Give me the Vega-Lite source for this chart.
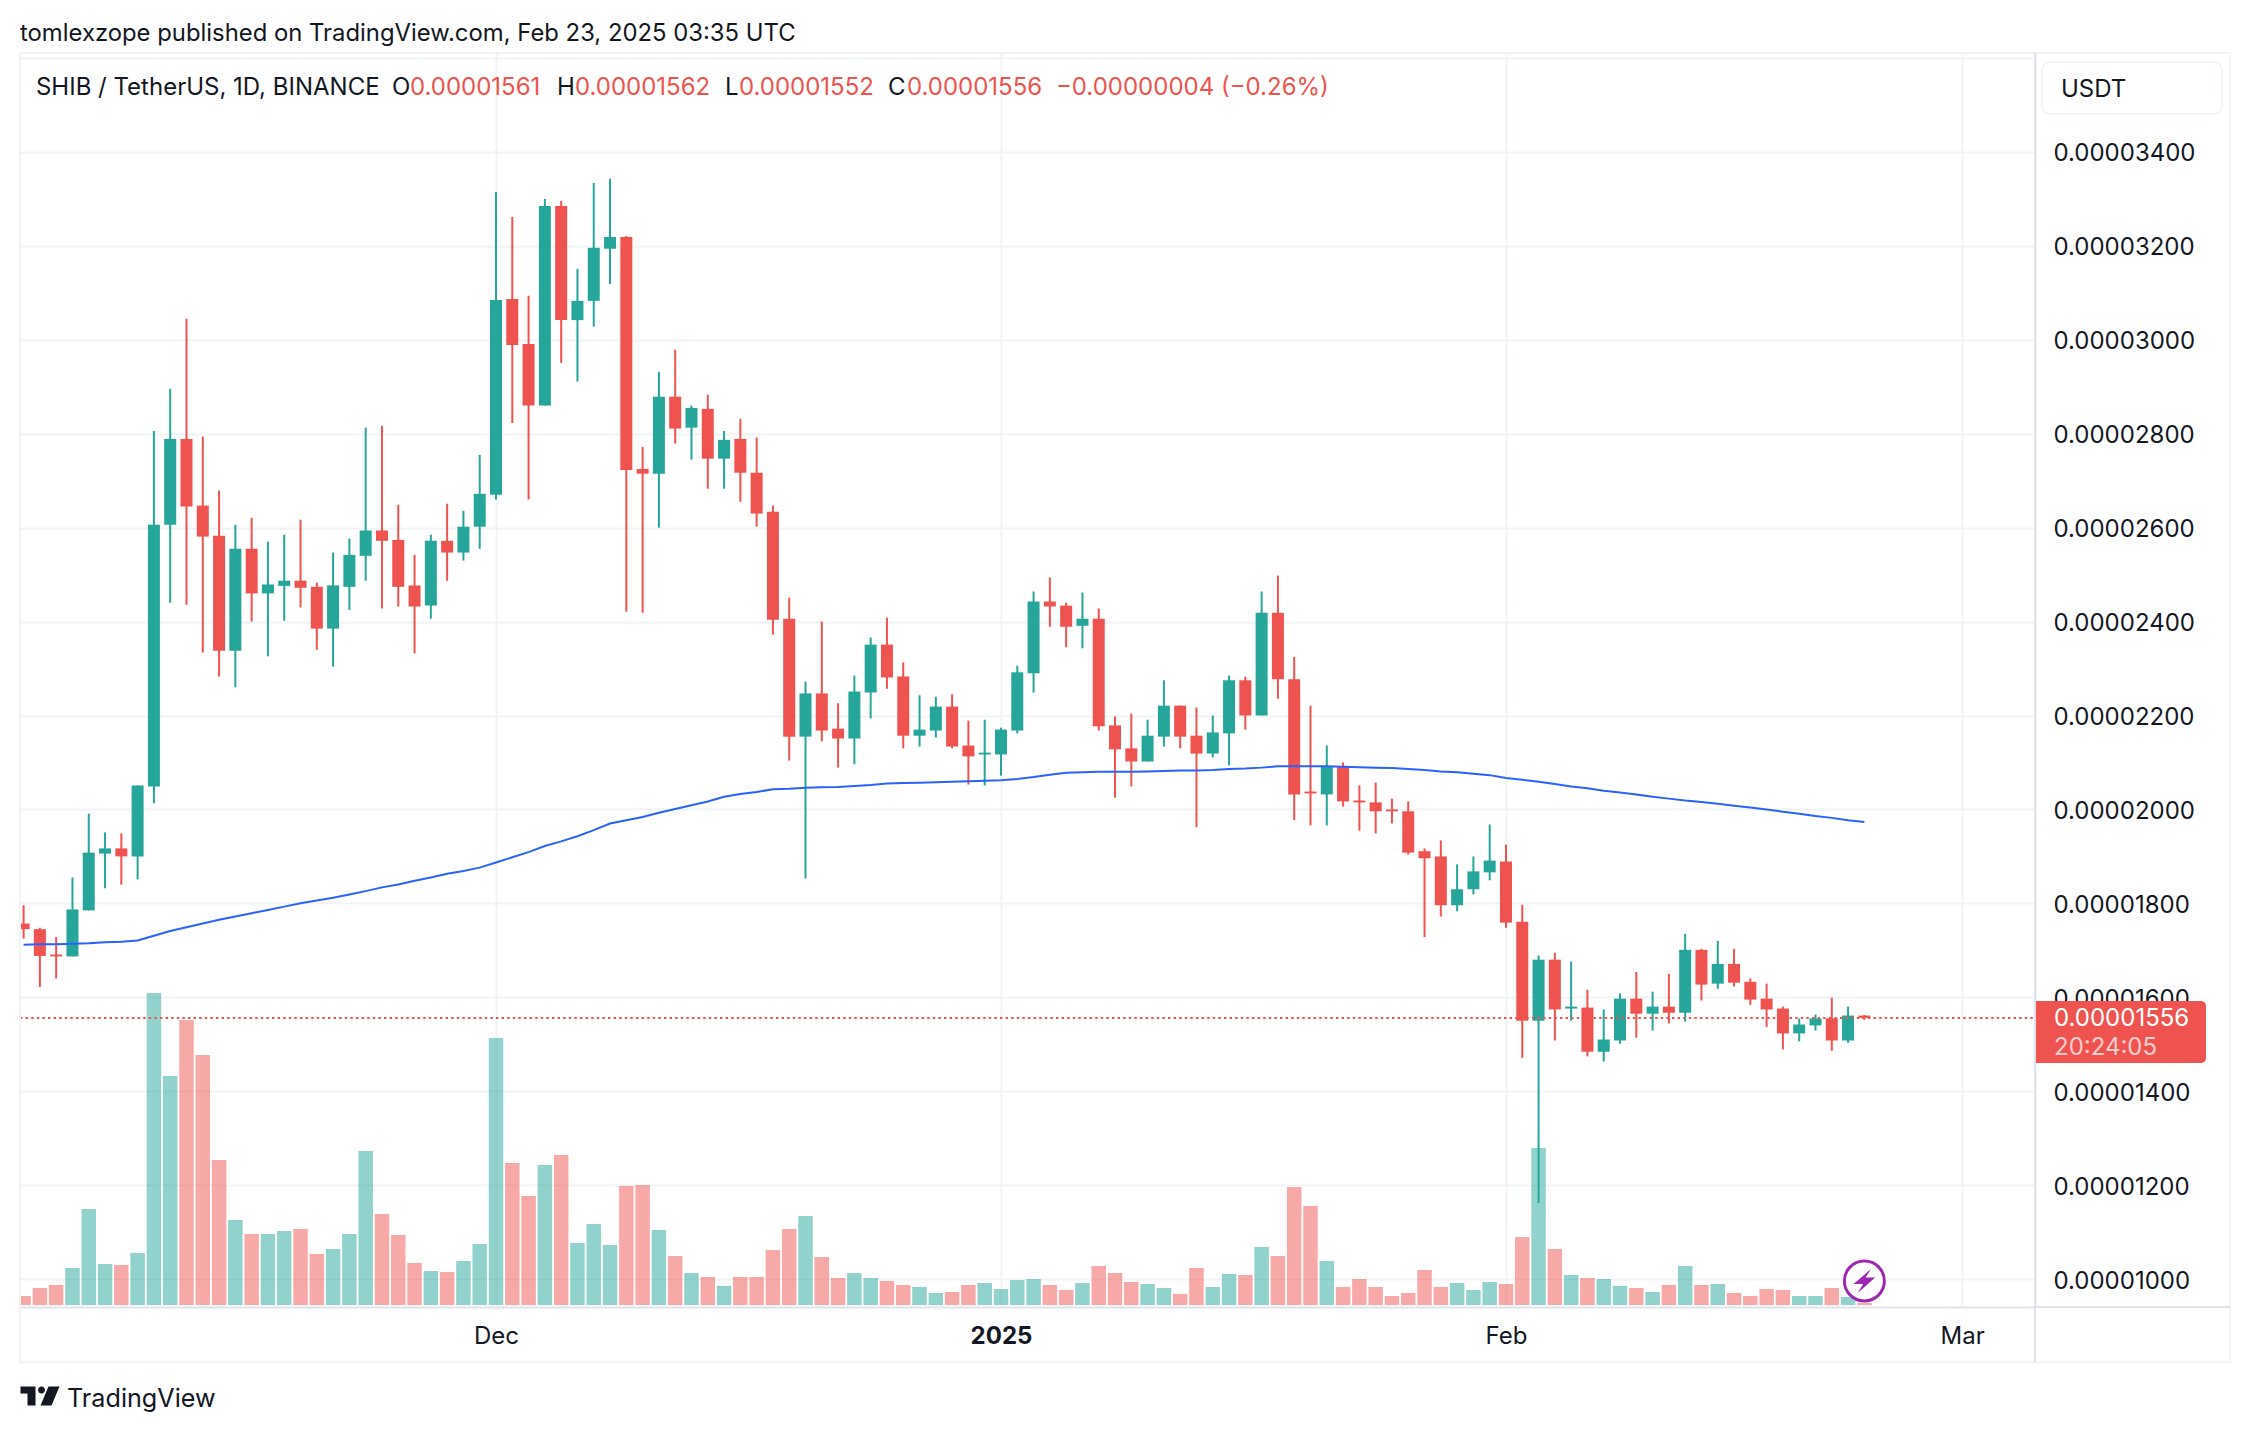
{
  "$schema": "https://vega.github.io/schema/vega-lite/v5.json",
  "description": "SHIB / TetherUS daily candles with volume and a long moving average.",
  "width": 2015,
  "height": 1254,
  "autosize": {"type": "none"},
  "padding": {"left": 20, "top": 53, "right": 215, "bottom": 125},
  "background": "#ffffff",
  "data": {"values": [
    {"date":"2024-11-02","dir":"down","open":0.00001757,"high":0.00001796,"low":0.00001725,"close":0.00001745,"volume":27,"ma":0.00001712},
    {"date":"2024-11-03","dir":"down","open":0.00001745,"high":0.00001748,"low":0.00001622,"close":0.00001688,"volume":51,"ma":0.00001713},
    {"date":"2024-11-04","dir":"down","open":0.00001691,"high":0.00001728,"low":0.0000164,"close":0.00001687,"volume":60,"ma":0.00001713},
    {"date":"2024-11-05","dir":"up","open":0.00001687,"high":0.00001855,"low":0.00001687,"close":0.00001787,"volume":111,"ma":0.00001714},
    {"date":"2024-11-06","dir":"up","open":0.00001785,"high":0.00001991,"low":0.00001785,"close":0.00001908,"volume":288,"ma":0.00001715},
    {"date":"2024-11-07","dir":"up","open":0.00001906,"high":0.00001951,"low":0.00001832,"close":0.00001917,"volume":123,"ma":0.00001717},
    {"date":"2024-11-08","dir":"down","open":0.00001917,"high":0.00001949,"low":0.0000184,"close":0.000019,"volume":120,"ma":0.00001718},
    {"date":"2024-11-09","dir":"up","open":0.000019,"high":0.00002051,"low":0.00001851,"close":0.00002051,"volume":156,"ma":0.00001721},
    {"date":"2024-11-10","dir":"up","open":0.00002049,"high":0.00002806,"low":0.00002013,"close":0.00002606,"volume":936,"ma":0.00001731},
    {"date":"2024-11-11","dir":"up","open":0.00002606,"high":0.00002896,"low":0.0000244,"close":0.00002789,"volume":687,"ma":0.00001741},
    {"date":"2024-11-12","dir":"down","open":0.00002789,"high":0.00003045,"low":0.00002436,"close":0.00002645,"volume":855,"ma":0.00001749},
    {"date":"2024-11-13","dir":"down","open":0.00002647,"high":0.00002794,"low":0.00002334,"close":0.00002581,"volume":750,"ma":0.00001757},
    {"date":"2024-11-14","dir":"down","open":0.00002583,"high":0.00002679,"low":0.00002283,"close":0.00002338,"volume":435,"ma":0.00001765},
    {"date":"2024-11-15","dir":"up","open":0.00002338,"high":0.00002606,"low":0.0000226,"close":0.00002555,"volume":255,"ma":0.00001772},
    {"date":"2024-11-16","dir":"down","open":0.00002555,"high":0.00002621,"low":0.000024,"close":0.0000246,"volume":213,"ma":0.00001779},
    {"date":"2024-11-17","dir":"up","open":0.0000246,"high":0.0000257,"low":0.00002326,"close":0.00002479,"volume":213,"ma":0.00001786},
    {"date":"2024-11-18","dir":"up","open":0.00002476,"high":0.00002585,"low":0.00002402,"close":0.00002487,"volume":222,"ma":0.00001793},
    {"date":"2024-11-19","dir":"down","open":0.00002487,"high":0.00002617,"low":0.0000243,"close":0.00002472,"volume":228,"ma":0.000018},
    {"date":"2024-11-20","dir":"down","open":0.00002474,"high":0.00002483,"low":0.0000234,"close":0.00002385,"volume":153,"ma":0.00001806},
    {"date":"2024-11-21","dir":"up","open":0.00002385,"high":0.00002547,"low":0.00002304,"close":0.00002477,"volume":168,"ma":0.00001812},
    {"date":"2024-11-22","dir":"up","open":0.00002474,"high":0.00002577,"low":0.00002425,"close":0.00002542,"volume":213,"ma":0.00001819},
    {"date":"2024-11-23","dir":"up","open":0.0000254,"high":0.00002813,"low":0.00002487,"close":0.00002594,"volume":462,"ma":0.00001826},
    {"date":"2024-11-24","dir":"down","open":0.00002594,"high":0.00002817,"low":0.00002428,"close":0.00002572,"volume":273,"ma":0.00001834},
    {"date":"2024-11-25","dir":"down","open":0.00002574,"high":0.00002649,"low":0.00002432,"close":0.00002474,"volume":210,"ma":0.0000184},
    {"date":"2024-11-26","dir":"down","open":0.00002477,"high":0.00002542,"low":0.00002332,"close":0.00002432,"volume":126,"ma":0.00001848},
    {"date":"2024-11-27","dir":"up","open":0.00002434,"high":0.00002585,"low":0.00002406,"close":0.00002572,"volume":102,"ma":0.00001855},
    {"date":"2024-11-28","dir":"down","open":0.00002572,"high":0.00002651,"low":0.00002487,"close":0.00002547,"volume":99,"ma":0.00001863},
    {"date":"2024-11-29","dir":"up","open":0.00002547,"high":0.00002636,"low":0.0000253,"close":0.00002602,"volume":132,"ma":0.00001869},
    {"date":"2024-11-30","dir":"up","open":0.00002602,"high":0.00002755,"low":0.00002555,"close":0.00002672,"volume":183,"ma":0.00001876},
    {"date":"2024-12-01","dir":"up","open":0.0000267,"high":0.00003315,"low":0.0000266,"close":0.00003085,"volume":801,"ma":0.00001887},
    {"date":"2024-12-02","dir":"down","open":0.00003087,"high":0.00003262,"low":0.00002823,"close":0.00002989,"volume":426,"ma":0.00001898},
    {"date":"2024-12-03","dir":"down","open":0.00002991,"high":0.00003094,"low":0.0000266,"close":0.0000286,"volume":327,"ma":0.00001909},
    {"date":"2024-12-04","dir":"up","open":0.0000286,"high":0.000033,"low":0.0000286,"close":0.00003285,"volume":420,"ma":0.00001922},
    {"date":"2024-12-05","dir":"down","open":0.00003285,"high":0.00003296,"low":0.00002951,"close":0.00003042,"volume":450,"ma":0.00001932},
    {"date":"2024-12-06","dir":"up","open":0.00003042,"high":0.00003151,"low":0.00002911,"close":0.00003083,"volume":186,"ma":0.00001943},
    {"date":"2024-12-07","dir":"up","open":0.00003083,"high":0.00003334,"low":0.00003028,"close":0.00003196,"volume":243,"ma":0.00001956},
    {"date":"2024-12-08","dir":"up","open":0.00003194,"high":0.00003343,"low":0.00003119,"close":0.00003219,"volume":180,"ma":0.0000197},
    {"date":"2024-12-09","dir":"down","open":0.00003219,"high":0.00003221,"low":0.00002421,"close":0.00002723,"volume":357,"ma":0.00001977},
    {"date":"2024-12-10","dir":"down","open":0.00002725,"high":0.00002772,"low":0.00002419,"close":0.00002715,"volume":360,"ma":0.00001984},
    {"date":"2024-12-11","dir":"up","open":0.00002715,"high":0.00002932,"low":0.000026,"close":0.00002879,"volume":225,"ma":0.00001993},
    {"date":"2024-12-12","dir":"down","open":0.00002879,"high":0.00002979,"low":0.00002779,"close":0.00002811,"volume":147,"ma":0.00002001},
    {"date":"2024-12-13","dir":"up","open":0.00002813,"high":0.0000286,"low":0.00002745,"close":0.00002855,"volume":96,"ma":0.00002009},
    {"date":"2024-12-14","dir":"down","open":0.00002853,"high":0.00002883,"low":0.00002683,"close":0.00002747,"volume":84,"ma":0.00002017},
    {"date":"2024-12-15","dir":"up","open":0.00002747,"high":0.00002806,"low":0.00002683,"close":0.00002787,"volume":57,"ma":0.00002027},
    {"date":"2024-12-16","dir":"down","open":0.00002789,"high":0.00002832,"low":0.00002655,"close":0.00002717,"volume":84,"ma":0.00002033},
    {"date":"2024-12-17","dir":"down","open":0.00002717,"high":0.00002792,"low":0.00002602,"close":0.0000263,"volume":84,"ma":0.00002037},
    {"date":"2024-12-18","dir":"down","open":0.00002634,"high":0.00002647,"low":0.00002372,"close":0.00002404,"volume":165,"ma":0.00002043},
    {"date":"2024-12-19","dir":"down","open":0.00002406,"high":0.00002451,"low":0.00002104,"close":0.00002155,"volume":228,"ma":0.00002044},
    {"date":"2024-12-20","dir":"up","open":0.00002155,"high":0.00002272,"low":0.00001853,"close":0.00002247,"volume":267,"ma":0.00002046},
    {"date":"2024-12-21","dir":"down","open":0.00002247,"high":0.000024,"low":0.00002145,"close":0.00002168,"volume":144,"ma":0.00002047},
    {"date":"2024-12-22","dir":"down","open":0.00002172,"high":0.00002226,"low":0.00002089,"close":0.00002151,"volume":81,"ma":0.00002048},
    {"date":"2024-12-23","dir":"up","open":0.00002151,"high":0.00002285,"low":0.00002096,"close":0.00002251,"volume":96,"ma":0.0000205},
    {"date":"2024-12-24","dir":"up","open":0.00002249,"high":0.00002366,"low":0.00002194,"close":0.00002351,"volume":81,"ma":0.00002052},
    {"date":"2024-12-25","dir":"down","open":0.00002351,"high":0.00002408,"low":0.00002257,"close":0.00002281,"volume":72,"ma":0.00002055},
    {"date":"2024-12-26","dir":"down","open":0.00002283,"high":0.00002313,"low":0.0000213,"close":0.00002157,"volume":60,"ma":0.00002056},
    {"date":"2024-12-27","dir":"up","open":0.00002157,"high":0.00002243,"low":0.00002134,"close":0.0000217,"volume":54,"ma":0.00002057},
    {"date":"2024-12-28","dir":"up","open":0.00002168,"high":0.0000224,"low":0.00002153,"close":0.00002219,"volume":36,"ma":0.00002058},
    {"date":"2024-12-29","dir":"down","open":0.00002219,"high":0.00002245,"low":0.0000213,"close":0.00002134,"volume":39,"ma":0.00002059},
    {"date":"2024-12-30","dir":"down","open":0.00002136,"high":0.00002189,"low":0.00002053,"close":0.00002113,"volume":60,"ma":0.0000206},
    {"date":"2024-12-31","dir":"up","open":0.00002117,"high":0.00002191,"low":0.00002051,"close":0.00002121,"volume":66,"ma":0.00002061},
    {"date":"2025-01-01","dir":"up","open":0.00002117,"high":0.00002174,"low":0.00002072,"close":0.0000217,"volume":48,"ma":0.00002062},
    {"date":"2025-01-02","dir":"up","open":0.00002168,"high":0.00002306,"low":0.00002162,"close":0.00002292,"volume":75,"ma":0.00002065},
    {"date":"2025-01-03","dir":"up","open":0.0000229,"high":0.00002464,"low":0.00002249,"close":0.00002443,"volume":78,"ma":0.00002069},
    {"date":"2025-01-04","dir":"down","open":0.00002443,"high":0.00002494,"low":0.00002389,"close":0.00002432,"volume":60,"ma":0.00002074},
    {"date":"2025-01-05","dir":"down","open":0.00002434,"high":0.0000244,"low":0.00002345,"close":0.00002389,"volume":45,"ma":0.00002078},
    {"date":"2025-01-06","dir":"up","open":0.00002391,"high":0.00002462,"low":0.00002343,"close":0.00002406,"volume":66,"ma":0.00002079},
    {"date":"2025-01-07","dir":"down","open":0.00002406,"high":0.00002428,"low":0.00002168,"close":0.00002177,"volume":117,"ma":0.0000208},
    {"date":"2025-01-08","dir":"down","open":0.00002179,"high":0.00002198,"low":0.00002025,"close":0.00002128,"volume":96,"ma":0.0000208},
    {"date":"2025-01-09","dir":"down","open":0.0000213,"high":0.00002204,"low":0.00002049,"close":0.00002102,"volume":69,"ma":0.0000208},
    {"date":"2025-01-10","dir":"up","open":0.00002102,"high":0.00002191,"low":0.00002102,"close":0.00002157,"volume":63,"ma":0.00002081},
    {"date":"2025-01-11","dir":"up","open":0.00002155,"high":0.00002275,"low":0.00002134,"close":0.00002221,"volume":51,"ma":0.00002082},
    {"date":"2025-01-12","dir":"down","open":0.00002221,"high":0.00002221,"low":0.0000213,"close":0.00002155,"volume":33,"ma":0.00002083},
    {"date":"2025-01-13","dir":"down","open":0.00002157,"high":0.00002217,"low":0.00001962,"close":0.00002119,"volume":111,"ma":0.00002083},
    {"date":"2025-01-14","dir":"up","open":0.00002119,"high":0.000022,"low":0.00002111,"close":0.00002164,"volume":54,"ma":0.00002084},
    {"date":"2025-01-15","dir":"up","open":0.00002162,"high":0.00002285,"low":0.00002094,"close":0.00002275,"volume":93,"ma":0.00002086},
    {"date":"2025-01-16","dir":"down","open":0.00002275,"high":0.00002283,"low":0.0000217,"close":0.000022,"volume":90,"ma":0.00002087},
    {"date":"2025-01-17","dir":"up","open":0.000022,"high":0.00002464,"low":0.000022,"close":0.00002419,"volume":174,"ma":0.00002089},
    {"date":"2025-01-18","dir":"down","open":0.00002419,"high":0.00002498,"low":0.00002236,"close":0.00002277,"volume":147,"ma":0.00002092},
    {"date":"2025-01-19","dir":"down","open":0.00002277,"high":0.00002325,"low":0.00001977,"close":0.00002032,"volume":354,"ma":0.00002092},
    {"date":"2025-01-20","dir":"down","open":0.00002038,"high":0.00002221,"low":0.00001966,"close":0.00002034,"volume":297,"ma":0.00002092},
    {"date":"2025-01-21","dir":"up","open":0.00002032,"high":0.00002136,"low":0.00001966,"close":0.00002092,"volume":132,"ma":0.00002092},
    {"date":"2025-01-22","dir":"down","open":0.00002092,"high":0.000021,"low":0.00002006,"close":0.00002017,"volume":54,"ma":0.00002091},
    {"date":"2025-01-23","dir":"down","open":0.00002019,"high":0.00002051,"low":0.00001955,"close":0.00002015,"volume":78,"ma":0.0000209},
    {"date":"2025-01-24","dir":"down","open":0.00002015,"high":0.00002057,"low":0.00001949,"close":0.00001996,"volume":54,"ma":0.00002089},
    {"date":"2025-01-25","dir":"down","open":0.00002,"high":0.00002023,"low":0.0000197,"close":0.00001996,"volume":27,"ma":0.00002088},
    {"date":"2025-01-26","dir":"down","open":0.00001996,"high":0.00002017,"low":0.00001904,"close":0.00001908,"volume":36,"ma":0.00002086},
    {"date":"2025-01-27","dir":"down","open":0.00001911,"high":0.00001917,"low":0.00001728,"close":0.00001896,"volume":105,"ma":0.00002084},
    {"date":"2025-01-28","dir":"down","open":0.000019,"high":0.00001934,"low":0.00001772,"close":0.00001796,"volume":54,"ma":0.00002081},
    {"date":"2025-01-29","dir":"up","open":0.00001796,"high":0.00001883,"low":0.00001783,"close":0.0000183,"volume":66,"ma":0.00002079},
    {"date":"2025-01-30","dir":"up","open":0.0000183,"high":0.000019,"low":0.00001819,"close":0.00001868,"volume":45,"ma":0.00002076},
    {"date":"2025-01-31","dir":"up","open":0.00001866,"high":0.00001968,"low":0.00001849,"close":0.00001891,"volume":69,"ma":0.00002073},
    {"date":"2025-02-01","dir":"down","open":0.00001889,"high":0.00001925,"low":0.00001748,"close":0.00001759,"volume":63,"ma":0.00002067},
    {"date":"2025-02-02","dir":"down","open":0.00001761,"high":0.00001797,"low":0.00001471,"close":0.0000155,"volume":204,"ma":0.00002063},
    {"date":"2025-02-03","dir":"up","open":0.0000155,"high":0.00001689,"low":0.00001162,"close":0.0000168,"volume":471,"ma":0.00002059},
    {"date":"2025-02-04","dir":"down","open":0.0000168,"high":0.00001695,"low":0.00001508,"close":0.00001574,"volume":168,"ma":0.00002054},
    {"date":"2025-02-05","dir":"up","open":0.00001576,"high":0.00001676,"low":0.0000155,"close":0.0000158,"volume":90,"ma":0.00002049},
    {"date":"2025-02-06","dir":"down","open":0.00001578,"high":0.00001616,"low":0.00001474,"close":0.00001484,"volume":81,"ma":0.00002045},
    {"date":"2025-02-07","dir":"up","open":0.00001484,"high":0.00001574,"low":0.00001463,"close":0.0000151,"volume":78,"ma":0.0000204},
    {"date":"2025-02-08","dir":"up","open":0.00001508,"high":0.00001608,"low":0.00001501,"close":0.00001597,"volume":57,"ma":0.00002036},
    {"date":"2025-02-09","dir":"down","open":0.00001597,"high":0.00001654,"low":0.00001514,"close":0.00001565,"volume":51,"ma":0.00002032},
    {"date":"2025-02-10","dir":"up","open":0.00001565,"high":0.00001612,"low":0.00001529,"close":0.0000158,"volume":39,"ma":0.00002027},
    {"date":"2025-02-11","dir":"down","open":0.0000158,"high":0.0000165,"low":0.00001544,"close":0.00001567,"volume":60,"ma":0.00002023},
    {"date":"2025-02-12","dir":"up","open":0.00001567,"high":0.00001735,"low":0.00001548,"close":0.00001701,"volume":117,"ma":0.00002019},
    {"date":"2025-02-13","dir":"down","open":0.00001701,"high":0.00001703,"low":0.00001593,"close":0.00001627,"volume":60,"ma":0.00002016},
    {"date":"2025-02-14","dir":"up","open":0.00001629,"high":0.0000172,"low":0.00001618,"close":0.00001671,"volume":63,"ma":0.00002012},
    {"date":"2025-02-15","dir":"down","open":0.00001671,"high":0.00001703,"low":0.00001623,"close":0.00001631,"volume":36,"ma":0.00002008},
    {"date":"2025-02-16","dir":"down","open":0.00001633,"high":0.0000164,"low":0.00001584,"close":0.00001595,"volume":27,"ma":0.00002004},
    {"date":"2025-02-17","dir":"down","open":0.00001597,"high":0.00001629,"low":0.00001537,"close":0.00001574,"volume":48,"ma":0.00002},
    {"date":"2025-02-18","dir":"down","open":0.00001576,"high":0.0000158,"low":0.00001489,"close":0.00001523,"volume":45,"ma":0.00001995},
    {"date":"2025-02-19","dir":"up","open":0.00001523,"high":0.00001555,"low":0.00001506,"close":0.00001542,"volume":27,"ma":0.00001991},
    {"date":"2025-02-20","dir":"up","open":0.0000154,"high":0.00001563,"low":0.00001529,"close":0.00001555,"volume":27,"ma":0.00001986},
    {"date":"2025-02-21","dir":"down","open":0.00001555,"high":0.00001599,"low":0.00001486,"close":0.00001508,"volume":51,"ma":0.00001982},
    {"date":"2025-02-22","dir":"up","open":0.00001508,"high":0.0000158,"low":0.00001503,"close":0.00001561,"volume":24,"ma":0.00001977},
    {"date":"2025-02-23","dir":"down","open":0.00001561,"high":0.00001562,"low":0.00001552,"close":0.00001556,"volume":6,"ma":0.00001973}
  ]},
  "encoding": {
    "x": {
      "field": "date",
      "type": "temporal",
      "title": null,
      "scale": {"domain": [1730486558832, 1741173852852], "padding": 0},
      "axis": {
        "values": [1733011200000, 1735689600000, 1738368000000, 1740787200000],
        "labelExpr": "utcmonth(datum.value) == 0 ? '2025' : utcFormat(datum.value, '%b')",
        "labelFont": "Inter",
        "labelFontSize": 24,
        "labelFontWeight": {"condition": {"test": "utcmonth(datum.value) == 0", "value": "bold"}, "value": "normal"},
        "labelColor": "#131722",
        "labelPadding": 17,
        "labelOverlap": false,
        "labelFlush": false,
        "ticks": false,
        "domainColor": "#e0e3eb",
        "domainWidth": 2,
        "grid": true,
        "gridColor": "#f2f3f5",
        "gridWidth": 2
      }
    }
  },
  "layer": [
    {
      "layer": [
        {
          "mark": {"type": "bar", "width": 14.5, "opacity": 0.5, "clip": true},
          "encoding": {
            "y": {
              "field": "volume",
              "type": "quantitative",
              "stack": null,
              "scale": {"domain": [-6, 3756]},
              "axis": null
            },
            "color": {
              "field": "dir",
              "type": "nominal",
              "scale": {"domain": ["up", "down"], "range": ["#26a69a", "#ef5350"]},
              "legend": null
            }
          }
        }
      ]
    },
    {
      "layer": [
        {
          "mark": {"type": "rule", "strokeWidth": 2},
          "encoding": {
            "y": {
              "field": "low",
              "type": "quantitative",
              "scale": {"domain": [0.000009404, 0.000036108]},
              "axis": {
                "title": null,
                "orient": "right",
                "values": [0.00001, 0.000012, 0.000014, 0.000016, 0.000018, 0.00002, 0.000022, 0.000024, 0.000026, 0.000028, 0.00003, 0.000032, 0.000034, 0.000036],
                "labelExpr": "datum.value > 0.000035 ? '' : format(datum.value, '.8f')",
                "labelFont": "Inter",
                "labelFontSize": 24,
                "labelColor": "#131722",
                "labelPadding": 18,
                "labelOffset": 2,
                "labelOverlap": false,
                "labelFlush": false,
                "ticks": false,
                "domainColor": "#e0e3eb",
                "domainWidth": 2,
                "grid": true,
                "gridColor": "#f2f3f5",
                "gridWidth": 2
              }
            },
            "y2": {"field": "high"},
            "color": {
              "field": "dir",
              "type": "nominal",
              "scale": {"domain": ["up", "down"], "range": ["#26a69a", "#ef5350"]},
              "legend": null
            }
          }
        },
        {
          "mark": {"type": "bar", "width": 12, "clip": true},
          "encoding": {
            "y": {"field": "open", "type": "quantitative", "stack": null, "scale": {"domain": [0.000009404, 0.000036108]}},
            "y2": {"field": "close"},
            "color": {"field": "dir", "type": "nominal", "legend": null}
          }
        },
        {
          "mark": {"type": "line", "color": "#2962ff", "strokeWidth": 2, "clip": true},
          "encoding": {
            "y": {"field": "ma", "type": "quantitative", "scale": {"domain": [0.000009404, 0.000036108]}}
          }
        },
        {
          "transform": [{"filter": "datum.volume == 6"}],
          "mark": {"type": "rule", "color": "#ef5350", "strokeWidth": 2, "strokeDash": [2.4, 3.2]},
          "encoding": {
            "x": {"datum": {"expr": "1730486558832"}, "type": "temporal", "scale": {"domain": [1730486558832, 1741173852852], "padding": 0}},
            "x2": {"datum": {"expr": "1741173852852"}},
            "y": {"datum": 0.00001556, "type": "quantitative", "scale": {"domain": [0.000009404, 0.000036108]}}
          }
        },
        {
          "transform": [{"filter": "datum.volume == 6"}],
          "mark": {"type": "rect", "filled": false, "stroke": "#f2f3f5", "strokeWidth": 2},
          "encoding": {
            "x": {"datum": {"expr": "1730486558832"}, "type": "temporal", "scale": {"domain": [1730486558832, 1741173852852], "padding": 0}},
            "x2": {"datum": {"expr": "1742208110000"}},
            "y": {"datum": 0.000036108, "type": "quantitative", "scale": {"domain": [0.000009404, 0.000036108]}},
            "y2": {"datum": 0.00000823}
          }
        },
        {
          "transform": [{"filter": "datum.volume == 6"}],
          "mark": {"type": "rule", "color": "#e0e3eb", "strokeWidth": 2},
          "encoding": {
            "x": {"datum": {"expr": "1741173852852"}, "type": "temporal", "scale": {"domain": [1730486558832, 1741173852852], "padding": 0}},
            "x2": {"datum": {"expr": "1742208110000"}},
            "y": {"datum": 0.000009404, "type": "quantitative", "scale": {"domain": [0.000009404, 0.000036108]}}
          }
        },
        {
          "transform": [{"filter": "datum.volume == 6"}],
          "mark": {"type": "rule", "color": "#e0e3eb", "strokeWidth": 2},
          "encoding": {
            "x": {"datum": {"expr": "1741173852852"}, "type": "temporal", "scale": {"domain": [1730486558832, 1741173852852], "padding": 0}},
            "y": {"datum": 0.000036108, "type": "quantitative", "scale": {"domain": [0.000009404, 0.000036108]}},
            "y2": {"datum": 0.00000823}
          }
        },
        {
          "transform": [{"filter": "datum.volume == 6"}],
          "mark": {"type": "rect", "fill": "#ffffff", "stroke": "#f0f3fa", "strokeWidth": 2, "cornerRadius": 8},
          "encoding": {
            "x": {"datum": {"expr": "1741210980000"}, "type": "temporal", "scale": {"domain": [1730486558832, 1741173852852], "padding": 0}},
            "x2": {"datum": {"expr": "1742165680000"}},
            "y": {"datum": 0.000035917, "type": "quantitative", "scale": {"domain": [0.000009404, 0.000036108]}},
            "y2": {"datum": 0.000034809}
          }
        },
        {
          "transform": [{"filter": "datum.volume == 6"}],
          "mark": {"type": "rect", "fill": "#ef5350", "cornerRadiusTopRight": 5, "cornerRadiusBottomRight": 5},
          "encoding": {
            "x": {"datum": {"expr": "1741179160000"}, "type": "temporal", "scale": {"domain": [1730486558832, 1741173852852], "padding": 0}},
            "x2": {"datum": {"expr": "1742080810000"}},
            "y": {"datum": 0.00001592, "type": "quantitative", "scale": {"domain": [0.000009404, 0.000036108]}},
            "y2": {"datum": 0.0000146}
          }
        },
        {
          "transform": [{"filter": "datum.volume == 6"}],
          "mark": {"type": "point", "shape": "circle", "filled": true, "fill": "#ffffff", "stroke": "#9c27b0", "strokeWidth": 3, "size": 1600, "opacity": 1},
          "encoding": {
            "x": {"datum": {"expr": "1740268800000"}, "type": "temporal", "scale": {"domain": [1730486558832, 1741173852852], "padding": 0}},
            "y": {"datum": 0.000009957, "type": "quantitative", "scale": {"domain": [0.000009404, 0.000036108]}}
          }
        },
        {
          "transform": [{"filter": "datum.volume == 6"}],
          "mark": {"type": "point", "shape": "M0.55,-1 L-0.9,0.25 L-0.1,0.25 L-0.55,1 L0.9,-0.3 L0.1,-0.3 Z", "filled": true, "fill": "#9c27b0", "size": 576, "opacity": 1},
          "encoding": {
            "x": {"datum": {"expr": "1740268800000"}, "type": "temporal", "scale": {"domain": [1730486558832, 1741173852852], "padding": 0}},
            "y": {"datum": 0.000009957, "type": "quantitative", "scale": {"domain": [0.000009404, 0.000036108]}}
          }
        },
        {
          "transform": [{"filter": "datum.volume == 6"}],
          "mark": {"type": "point", "shape": "M-0.975,-0.475 L-0.225,-0.475 L-0.225,0.475 L-0.625,0.475 L-0.625,-0.125 L-0.975,-0.125 Z M0.425,-0.475 L0.975,-0.475 L0.575,0.475 L0.025,0.475 Z M-0.1,-0.3 A0.175,0.175 0 1 0 0.25,-0.3 A0.175,0.175 0 1 0 -0.1,-0.3 Z", "filled": true, "fill": "#131722", "size": 1600, "opacity": 1},
          "encoding": {
            "x": {"datum": {"expr": "1730592640000"}, "type": "temporal", "scale": {"domain": [1730486558832, 1741173852852], "padding": 0}},
            "y": {"datum": 0.000007508, "type": "quantitative", "scale": {"domain": [0.000009404, 0.000036108]}}
          }
        },
        {
          "transform": [{"filter": "datum.volume == 6"}],
          "mark": {"type": "text", "text": "tomlexzope published on TradingView.com, Feb 23, 2025 03:35 UTC", "align": "left", "baseline": "middle", "font": "Inter", "fontSize": 23.85, "color": "#131722"},
          "encoding": {
            "x": {"datum": {"expr": "1730486558832"}, "type": "temporal", "scale": {"domain": [1730486558832, 1741173852852], "padding": 0}},
            "y": {"datum": 0.000036513, "type": "quantitative", "scale": {"domain": [0.000009404, 0.000036108]}}
          }
        },
        {
          "transform": [{"filter": "datum.volume == 6"}],
          "mark": {"type": "text", "text": "TradingView", "align": "left", "baseline": "middle", "font": "Inter", "fontSize": 25.2, "color": "#131722"},
          "encoding": {
            "x": {"datum": {"expr": "1730735840000"}, "type": "temporal", "scale": {"domain": [1730486558832, 1741173852852], "padding": 0}},
            "y": {"datum": 0.000007444, "type": "quantitative", "scale": {"domain": [0.000009404, 0.000036108]}}
          }
        },
        {
          "transform": [{"filter": "datum.volume == 6"}],
          "mark": {"type": "text", "text": "SHIB / TetherUS, 1D, BINANCE", "align": "left", "baseline": "middle", "font": "Inter", "fontSize": 24, "color": "#131722"},
          "encoding": {
            "x": {"datum": {"expr": "1730571220000"}, "type": "temporal", "scale": {"domain": [1730486558832, 1741173852852], "padding": 0}},
            "y": {"datum": 0.000035363, "type": "quantitative", "scale": {"domain": [0.000009404, 0.000036108]}}
          }
        },
        {
          "transform": [{"filter": "datum.volume == 6"}],
          "mark": {"type": "text", "text": "O", "align": "left", "baseline": "middle", "font": "Inter", "fontSize": 24, "color": "#131722"},
          "encoding": {
            "x": {"datum": {"expr": "1732459400000"}, "type": "temporal", "scale": {"domain": [1730486558832, 1741173852852], "padding": 0}},
            "y": {"datum": 0.000035363, "type": "quantitative", "scale": {"domain": [0.000009404, 0.000036108]}}
          }
        },
        {
          "transform": [{"filter": "datum.volume == 6"}],
          "mark": {"type": "text", "text": "0.00001561", "align": "left", "baseline": "middle", "font": "Inter", "fontSize": 24, "color": "#ef5350"},
          "encoding": {
            "x": {"datum": {"expr": "1732554870000"}, "type": "temporal", "scale": {"domain": [1730486558832, 1741173852852], "padding": 0}},
            "y": {"datum": 0.000035363, "type": "quantitative", "scale": {"domain": [0.000009404, 0.000036108]}}
          }
        },
        {
          "transform": [{"filter": "datum.volume == 6"}],
          "mark": {"type": "text", "text": "H", "align": "left", "baseline": "middle", "font": "Inter", "fontSize": 24, "color": "#131722"},
          "encoding": {
            "x": {"datum": {"expr": "1733334540000"}, "type": "temporal", "scale": {"domain": [1730486558832, 1741173852852], "padding": 0}},
            "y": {"datum": 0.000035363, "type": "quantitative", "scale": {"domain": [0.000009404, 0.000036108]}}
          }
        },
        {
          "transform": [{"filter": "datum.volume == 6"}],
          "mark": {"type": "text", "text": "0.00001562", "align": "left", "baseline": "middle", "font": "Inter", "fontSize": 24, "color": "#ef5350"},
          "encoding": {
            "x": {"datum": {"expr": "1733430010000"}, "type": "temporal", "scale": {"domain": [1730486558832, 1741173852852], "padding": 0}},
            "y": {"datum": 0.000035363, "type": "quantitative", "scale": {"domain": [0.000009404, 0.000036108]}}
          }
        },
        {
          "transform": [{"filter": "datum.volume == 6"}],
          "mark": {"type": "text", "text": "L", "align": "left", "baseline": "middle", "font": "Inter", "fontSize": 24, "color": "#131722"},
          "encoding": {
            "x": {"datum": {"expr": "1734225590000"}, "type": "temporal", "scale": {"domain": [1730486558832, 1741173852852], "padding": 0}},
            "y": {"datum": 0.000035363, "type": "quantitative", "scale": {"domain": [0.000009404, 0.000036108]}}
          }
        },
        {
          "transform": [{"filter": "datum.volume == 6"}],
          "mark": {"type": "text", "text": "0.00001552", "align": "left", "baseline": "middle", "font": "Inter", "fontSize": 24, "color": "#ef5350"},
          "encoding": {
            "x": {"datum": {"expr": "1734299840000"}, "type": "temporal", "scale": {"domain": [1730486558832, 1741173852852], "padding": 0}},
            "y": {"datum": 0.000035363, "type": "quantitative", "scale": {"domain": [0.000009404, 0.000036108]}}
          }
        },
        {
          "transform": [{"filter": "datum.volume == 6"}],
          "mark": {"type": "text", "text": "C", "align": "left", "baseline": "middle", "font": "Inter", "fontSize": 24, "color": "#131722"},
          "encoding": {
            "x": {"datum": {"expr": "1735090120000"}, "type": "temporal", "scale": {"domain": [1730486558832, 1741173852852], "padding": 0}},
            "y": {"datum": 0.000035363, "type": "quantitative", "scale": {"domain": [0.000009404, 0.000036108]}}
          }
        },
        {
          "transform": [{"filter": "datum.volume == 6"}],
          "mark": {"type": "text", "text": "0.00001556", "align": "left", "baseline": "middle", "font": "Inter", "fontSize": 24, "color": "#ef5350"},
          "encoding": {
            "x": {"datum": {"expr": "1735190890000"}, "type": "temporal", "scale": {"domain": [1730486558832, 1741173852852], "padding": 0}},
            "y": {"datum": 0.000035363, "type": "quantitative", "scale": {"domain": [0.000009404, 0.000036108]}}
          }
        },
        {
          "transform": [{"filter": "datum.volume == 6"}],
          "mark": {"type": "text", "text": "−0.00000004 (−0.26%)", "align": "left", "baseline": "middle", "font": "Inter", "fontSize": 24, "color": "#ef5350"},
          "encoding": {
            "x": {"datum": {"expr": "1735981170000"}, "type": "temporal", "scale": {"domain": [1730486558832, 1741173852852], "padding": 0}},
            "y": {"datum": 0.000035363, "type": "quantitative", "scale": {"domain": [0.000009404, 0.000036108]}}
          }
        },
        {
          "transform": [{"filter": "datum.volume == 6"}],
          "mark": {"type": "text", "text": "USDT", "align": "left", "baseline": "middle", "font": "Inter", "fontSize": 24, "color": "#131722"},
          "encoding": {
            "x": {"datum": {"expr": "1741311550000"}, "type": "temporal", "scale": {"domain": [1730486558832, 1741173852852], "padding": 0}},
            "y": {"datum": 0.00003532, "type": "quantitative", "scale": {"domain": [0.000009404, 0.000036108]}}
          }
        },
        {
          "transform": [{"filter": "datum.volume == 6"}],
          "mark": {"type": "text", "text": "0.00001556", "align": "left", "baseline": "middle", "font": "Inter", "fontSize": 24, "color": "#ffffff"},
          "encoding": {
            "x": {"datum": {"expr": "1741274630000"}, "type": "temporal", "scale": {"domain": [1730486558832, 1741173852852], "padding": 0}},
            "y": {"datum": 0.00001553, "type": "quantitative", "scale": {"domain": [0.000009404, 0.000036108]}}
          }
        },
        {
          "transform": [{"filter": "datum.volume == 6"}],
          "mark": {"type": "text", "text": "20:24:05", "align": "left", "baseline": "middle", "font": "Inter", "fontSize": 24, "color": "#ffffff", "opacity": 0.7},
          "encoding": {
            "x": {"datum": {"expr": "1741274630000"}, "type": "temporal", "scale": {"domain": [1730486558832, 1741173852852], "padding": 0}},
            "y": {"datum": 0.00001491, "type": "quantitative", "scale": {"domain": [0.000009404, 0.000036108]}}
          }
        }
      ]
    }
  ],
  "resolve": {"scale": {"y": "independent"}},
  "config": {"view": {"stroke": null}}
}
